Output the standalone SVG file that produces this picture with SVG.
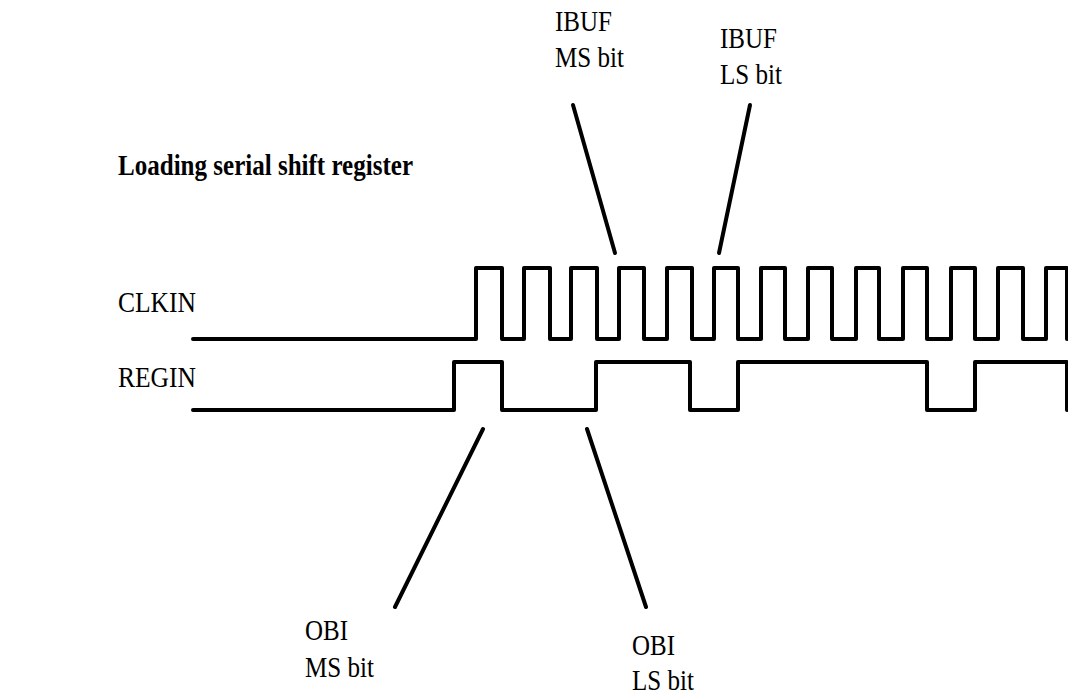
<svg xmlns="http://www.w3.org/2000/svg" width="1068" height="695" viewBox="0 0 1068 695">
<style>
.t{font-family:"Liberation Serif","Times New Roman",serif;font-size:29px;fill:#000}
.b{font-weight:bold}
.w{fill:none;stroke:#000;stroke-width:4;stroke-linecap:round;stroke-linejoin:round}
</style>
<rect width="1068" height="695" fill="#fff"/>
<text class="t b" x="118" y="175" textLength="295" lengthAdjust="spacingAndGlyphs">Loading serial shift register</text>
<g id="clkin">
<text class="t" x="118" y="312" textLength="78" lengthAdjust="spacingAndGlyphs">CLKIN</text>
<path class="w" d="M193,339 H476 V268 H502 V339 H524 V268 H550 V339 H571 V268 H597 V339 H619 V268 H644 V339 H667 V268 H692 V339 H714 V268 H738 V339 H761 V268 H785 V339 H808 V268 H832 V339 H856 V268 H879 V339 H903 V268 H927 V339 H951 V268 H975 V339 H998 V268 H1023 V339 H1046 V268 H1067 V339"/>
</g>
<g id="regin">
<text class="t" x="118" y="387" textLength="78" lengthAdjust="spacingAndGlyphs">REGIN</text>
<path class="w" d="M193,410 H454 V362 H502 V410 H596 V362 H690 V410 H738 V362 H927 V410 H975 V362 H1067 V410"/>
</g>
<g id="ibuf-ms">
<text class="t" x="555" y="31" textLength="57" lengthAdjust="spacingAndGlyphs">IBUF</text>
<text class="t" x="555" y="67" textLength="69" lengthAdjust="spacingAndGlyphs">MS bit</text>
</g>
<g id="ibuf-ls">
<text class="t" x="720" y="48" textLength="57" lengthAdjust="spacingAndGlyphs">IBUF</text>
<text class="t" x="720" y="84" textLength="62" lengthAdjust="spacingAndGlyphs">LS bit</text>
</g>
<g id="obi-ms">
<text class="t" x="305" y="640" textLength="43" lengthAdjust="spacingAndGlyphs">OBI</text>
<text class="t" x="305" y="677" textLength="69" lengthAdjust="spacingAndGlyphs">MS bit</text>
</g>
<g id="obi-ls">
<text class="t" x="632" y="655" textLength="43" lengthAdjust="spacingAndGlyphs">OBI</text>
<text class="t" x="632" y="690" textLength="62" lengthAdjust="spacingAndGlyphs">LS bit</text>
</g>
<g id="connectors">
<line class="w" x1="573" y1="105" x2="615" y2="253"/>
<line class="w" x1="750" y1="105" x2="719" y2="253"/>
<line class="w" x1="483" y1="429" x2="395" y2="607"/>
<line class="w" x1="587" y1="429" x2="646" y2="607"/>
</g>
</svg>
